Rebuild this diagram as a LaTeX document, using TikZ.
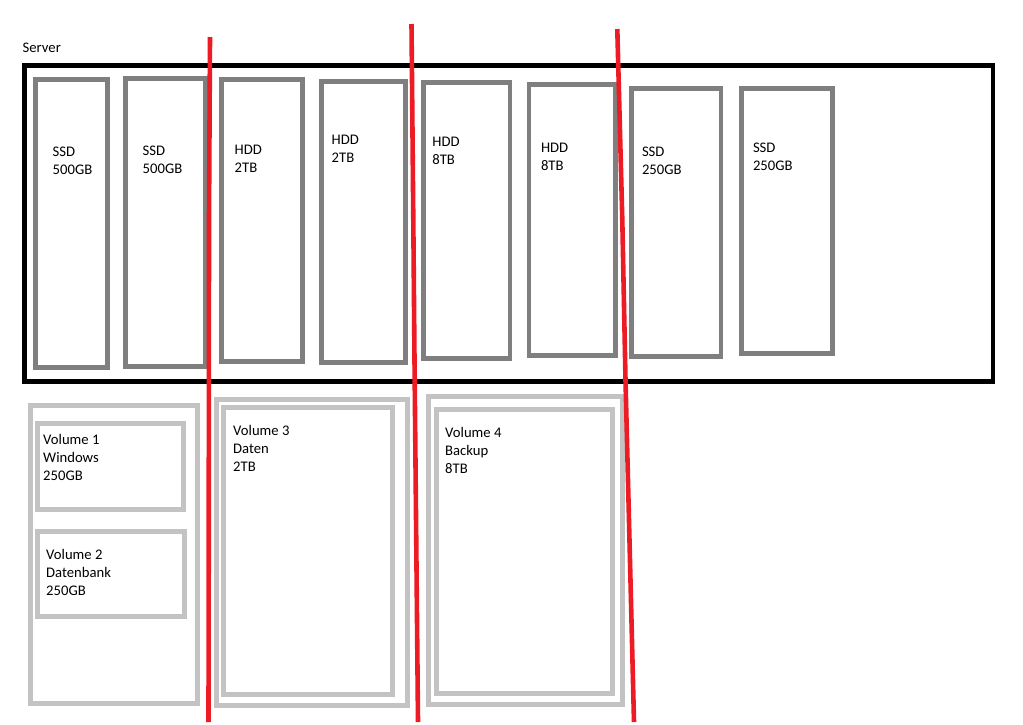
\documentclass[tikz,border=0pt]{standalone}
\usepackage{fontspec}
\setmainfont{Carlito}
\definecolor{diskgray}{HTML}{7F7F7F}
\definecolor{volgray}{HTML}{C3C3C3}
\definecolor{cutred}{HTML}{ED1C24}
\tikzset{
  serverbox/.style={draw=black, line width=4.7pt},
  diskbox/.style={draw=diskgray, line width=4.7pt},
  volbox/.style={draw=volgray, line width=5pt},
  cutline/.style={draw=cutred, line width=4.6pt, line join=round},
  lbl/.style={anchor=north west, inner sep=0pt, align=left,
    font=\fontsize{14.67}{18}\selectfont}
}
\begin{document}
\begin{tikzpicture}[x=1pt,y=-1pt]
\useasboundingbox[fill=white] (0,0) rectangle (1023,724);
% server
\node[lbl] (server) at (22.5,39.4) {\strut Server};
\draw[serverbox] (24.3,65.5) rectangle (993,381.3);
% disks
\draw[diskbox] (35.7,79.5) rectangle (107.5,367.7);
\draw[diskbox] (125.7,78.7) rectangle (205.5,366.7);
\draw[diskbox] (221.3,79.7) rectangle (302.3,361.3);
\draw[diskbox] (321.5,81.7) rectangle (405.8,362.3);
\draw[diskbox] (423.3,82.7) rectangle (510,358.2);
\draw[diskbox] (529,84.7) rectangle (615.7,355.5);
\draw[diskbox] (631.7,88.3) rectangle (721,356.3);
\draw[diskbox] (741.7,88.3) rectangle (832.3,353.5);
\node[lbl] (d1) at (52.5,143.8) {\strut SSD\\500GB};
\node[lbl] (d2) at (142.5,142.8) {\strut SSD\\500GB};
\node[lbl] (d3) at (234.5,141.4) {\strut HDD\\2TB};
\node[lbl] (d4) at (331.5,131.4) {\strut HDD\\2TB};
\node[lbl] (d5) at (432.2,133.8) {\strut HDD\\8TB};
\node[lbl] (d6) at (540.8,139.8) {\strut HDD\\8TB};
\node[lbl] (d7) at (641.8,143.8) {\strut SSD\\250GB};
\node[lbl] (d8) at (752.8,139.8) {\strut SSD\\250GB};
% volumes
\draw[volbox] (30.8,405) rectangle (197,703);
\draw[volbox] (37.5,423.5) rectangle (183.3,509);
\draw[volbox] (37.5,531.8) rectangle (184.5,616.5);
\draw[volbox] (216.5,399.8) rectangle (407.5,705);
\draw[volbox] (223,407.7) rectangle (392.5,694);
\draw[volbox] (428.5,396.5) rectangle (622.5,704.8);
\draw[volbox] (436.8,409.8) rectangle (612.5,693.2);
\node[lbl] (v1) at (43,431.3) {\strut Volume 1\\Windows\\250GB};
\node[lbl] (v2) at (46,546.3) {\strut Volume 2\\Datenbank\\250GB};
\node[lbl] (v3) at (233,422.2) {\strut Volume 3\\Daten\\2TB};
\node[lbl] (v4) at (445,424.2) {\strut Volume 4\\Backup\\8TB};
% red separators
\coordinate (r1a) at (210,37);
\coordinate (r1b) at (209,220);
\coordinate (r1c) at (208.7,572);
\coordinate (r1d) at (208.5,722);
\draw[cutline] (r1a) -- (r1b) -- (r1c) -- (r1d);
\coordinate (r2a) at (411.5,24);
\coordinate (r2b) at (413.3,220);
\coordinate (r2c) at (414.5,360);
\coordinate (r2d) at (418,722);
\draw[cutline] (r2a) -- (r2b) -- (r2c) -- (r2d);
\coordinate (r3a) at (617.3,29);
\coordinate (r3b) at (622.3,220);
\coordinate (r3c) at (625.5,380);
\coordinate (r3d) at (634,722);
\draw[cutline] (r3a) -- (r3b) -- (r3c) -- (r3d);
\end{tikzpicture}
\end{document}
